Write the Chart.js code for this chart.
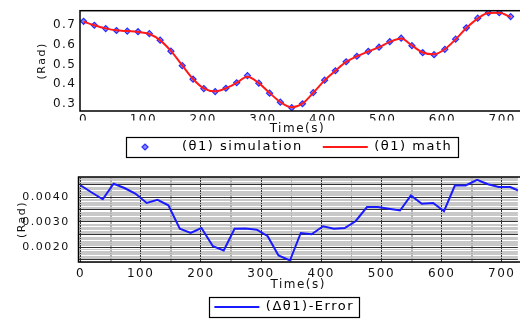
<!DOCTYPE html>
<html>
<head>
<meta charset="utf-8">
<script src="https://cdn.jsdelivr.net/npm/chart.js@4.4.1/dist/chart.umd.min.js"></script>
<style>
body{margin:0;background:#fff;width:520px;height:320px;overflow:hidden}
.box{position:absolute;left:0;width:520px;height:160px}
</style>
</head>
<body>
<div class="box" style="top:0"><canvas id="topChart" width="520" height="160"></canvas></div>
<div class="box" style="top:160px"><canvas id="errChart" width="520" height="160"></canvas></div>
<script>
// time axis (s), one sample roughly every 18.3 s
var simTime = [0, 18, 37, 55, 73, 91, 110, 128, 146, 165, 183, 201, 220, 238, 256, 274, 293, 311, 329, 348,
               366, 384, 403, 421, 439, 457, 476, 494, 512, 531, 549, 567, 586, 604, 622, 640, 659, 677, 695, 714];
var simTheta = [0.720, 0.700, 0.683, 0.673, 0.670, 0.667, 0.657, 0.624, 0.568, 0.494,
                0.425, 0.377, 0.362, 0.379, 0.407, 0.443, 0.405, 0.354, 0.308, 0.280,
                0.300, 0.357, 0.420, 0.468, 0.514, 0.542, 0.567, 0.588, 0.616, 0.634,
                0.596, 0.560, 0.550, 0.577, 0.629, 0.687, 0.736, 0.764, 0.764, 0.744];
var mathTheta = [0.718, 0.700, 0.684, 0.674, 0.670, 0.666, 0.655, 0.623, 0.569, 0.495,
                 0.426, 0.378, 0.363, 0.379, 0.407, 0.438, 0.405, 0.355, 0.309, 0.282,
                 0.301, 0.356, 0.419, 0.468, 0.513, 0.542, 0.566, 0.588, 0.615, 0.632,
                 0.597, 0.561, 0.552, 0.578, 0.628, 0.686, 0.734, 0.762, 0.763, 0.742];

var errTime = [0, 18, 37, 55, 73, 91, 110, 128, 146, 165, 183, 201, 220, 238, 256, 274, 293, 311, 329, 348,
               366, 384, 403, 421, 439, 457, 476, 494, 512, 531, 549, 567, 586, 604, 622, 640, 659, 677, 695, 714, 732];
var errTheta = [0.00451, 0.00423, 0.00395, 0.00457, 0.00440, 0.00418, 0.00380, 0.00393, 0.00371, 0.00277,
                0.00260, 0.00280, 0.00207, 0.00190, 0.00277, 0.00278, 0.00273, 0.00247, 0.00170, 0.00150,
                0.00260, 0.00255, 0.00287, 0.00277, 0.00280, 0.00307, 0.00364, 0.00364, 0.00357, 0.00350,
                0.00410, 0.00377, 0.00380, 0.00347, 0.00450, 0.00450, 0.00473, 0.00455, 0.00444, 0.00444, 0.00425];

var timeTicks = [0, 100, 200, 300, 400, 500, 600, 700];
var thetaTicks = ['0.3', '0.4', '0.5', '0.6', '0.7'];
var errTicks = ['0.0020', '0.0030', '0.0040'];

Chart.defaults.font.family = "'DejaVu Sans', sans-serif";
Chart.defaults.color = '#111';

function points(xs, ys){
    var out = [];
    for(let i=0; i<ys.length; i++){
        out.push({x: xs[i], y: ys[i]});
    }
    return out;
}

// the source plot is drawn with wide letter spacing
var spacing = {
    id: 'spacing',
    beforeUpdate: function(chart){ chart.ctx.letterSpacing = '1.5px'; },
    beforeDraw: function(chart){ chart.ctx.letterSpacing = '1.5px'; }
};

// light minor grid under the dark major lines
var minorGrid = {
    id: 'minorGrid',
    beforeDraw: function(chart, args, opts){
        if(!opts.on) return;
        var a = chart.chartArea, ctx = chart.ctx, xs = chart.scales.x, ys = chart.scales.y;
        ctx.save();
        ctx.lineWidth = 1;
        ctx.strokeStyle = opts.yColor;
        for(let k = Math.ceil(ys.min / opts.yStep); k * opts.yStep <= ys.max; k++){
            if(k % 5 === 0) continue;
            var py = Math.round(ys.getPixelForValue(k * opts.yStep)) + 0.5;
            ctx.beginPath(); ctx.moveTo(a.left, py); ctx.lineTo(a.right, py); ctx.stroke();
        }
        ctx.strokeStyle = opts.xColor;
        for(let k = Math.ceil(xs.min / opts.xStep); k * opts.xStep <= xs.max; k++){
            if(k % 2 === 0) continue;
            var px = Math.round(xs.getPixelForValue(k * opts.xStep)) + 0.5;
            ctx.beginPath(); ctx.moveTo(px, a.top); ctx.lineTo(px, a.bottom); ctx.stroke();
        }
        ctx.restore();
    }
};

// frame round the plot and round the legend
var frame = {
    id: 'frame',
    afterLayout: function(chart, args, opts){
        chart.legend.left += opts.shift;
        chart.legend.right += opts.shift;
    },
    afterDraw: function(chart, args, opts){
        var a = chart.chartArea, ctx = chart.ctx;
        ctx.save();
        ctx.strokeStyle = '#000';
        ctx.lineWidth = 1.5;
        ctx.strokeRect(a.left, a.top, a.right - a.left + 10, a.bottom - a.top);
        var hb = chart.legend.legendHitBoxes;
        var first = hb[0], last = hb[hb.length-1];
        var left = first.left - opts.padLeft;
        var right = last.left + last.width + opts.padRight;
        ctx.lineWidth = 1.2;
        ctx.strokeRect(Math.round(left)+0.5, Math.round(first.top - opts.padTop)+0.5, Math.round(right-left), Math.round(first.height + opts.padTop + opts.padBottom));
        ctx.restore();
    }
};

function diamondIcon(){
    var c = document.createElement('canvas');
    c.width = 30; c.height = 10;
    var g = c.getContext('2d');
    g.fillStyle = '#8c8cff';
    g.strokeStyle = '#2a2aff';
    g.lineWidth = 1.2;
    Chart.helpers.drawPoint(g, {pointStyle: 'rectRot', radius: 3, borderWidth: 1.2, rotation: 0}, 7, 5);
    return c;
}

new Chart('topChart', {
    type: 'line',
    data: {
        datasets: [{
            label: '(θ1) simulation',
            data: points(simTime, simTheta),
            showLine: false,
            pointStyle: 'rectRot',
            pointRadius: 3,
            pointBorderWidth: 1.2,
            backgroundColor: '#8c8cff',
            borderColor: '#2a2aff',
            order: 1
        }, {
            label: '(θ1) math',
            data: points(simTime, mathTheta),
            borderColor: '#ff1a1a',
            backgroundColor: '#ff1a1a',
            borderWidth: 2,
            pointRadius: 0,
            pointStyle: 'line',
            cubicInterpolationMode: 'monotone',
            order: 0
        }]
    },
    options: {
        responsive: false,
        animation: false,
        layout: {padding: {top: 7, left: 0, right: 0, bottom: 0}},
        scales: {
            x: {
                type: 'linear', min: -6, max: 721,
                border: {display: false},
                grid: {display: false, drawTicks: false},
                ticks: {
                    stepSize: 100, includeBounds: false, autoSkip: false, maxRotation: 0,
                    padding: 2, color: '#111', font: {size: 12},
                    callback: function(v){ return timeTicks.includes(v) ? String(v) : ''; }
                },
                title: {display: true, text: 'Time(s)', color: '#111', font: {size: 12}, padding: {top: 0, bottom: -15.7}},
                afterFit: function(s){ s.height = 9.5; }
            },
            y: {
                min: 0.263, max: 0.774,
                border: {display: false},
                grid: {display: false, drawTicks: false},
                ticks: {
                    stepSize: 0.1, includeBounds: false, padding: 3.5, color: '#111', font: {size: 12},
                    callback: function(v){ var s = v.toFixed(1); return thetaTicks.includes(s) ? s : ''; }
                },
                title: {display: true, text: '(Rad)', color: '#111', font: {size: 11}, padding: {top: 35.9, bottom: 0}},
                afterFit: function(s){ s.width = 80; }
            }
        },
        plugins: {
            legend: {
                position: 'bottom', fullSize: false, maxHeight: 39.5,
                labels: {
                    usePointStyle: true, pointStyleWidth: 45, boxHeight: 5, padding: 20,
                    color: '#000', font: {size: 13},
                    generateLabels: function(chart){
                        var items = Chart.defaults.plugins.legend.labels.generateLabels(chart);
                        items.sort(function(a, b){ return a.datasetIndex - b.datasetIndex; });
                        items[0].pointStyle = diamondIcon();
                        return items;
                    }
                }
            },
            tooltip: {enabled: false},
            minorGrid: {on: false},
            frame: {shift: -6, padLeft: 5, padRight: 5, padTop: 3.5, padBottom: 3.5}
        }
    },
    plugins: [spacing, minorGrid, frame]
});

new Chart('errChart', {
    type: 'line',
    data: {
        datasets: [{
            label: '(Δθ1)-Error',
            data: points(errTime, errTheta),
            borderColor: '#1a1aff',
            backgroundColor: '#1a1aff',
            borderWidth: 2,
            pointRadius: 0,
            pointStyle: 'line',
            tension: 0
        }]
    },
    options: {
        responsive: false,
        animation: false,
        layout: {padding: {top: 17, left: 0, right: 0, bottom: 0}},
        scales: {
            x: {
                type: 'linear', min: -3.3, max: 726.7,
                border: {display: false},
                grid: {
                    drawTicks: false, lineWidth: 1,
                    color: function(c){ return c.tick.value % 100 === 0 ? '#333' : '#b0b0b0'; }
                },
                ticks: {
                    stepSize: 50, maxTicksLimit: 100, includeBounds: false, autoSkip: false, maxRotation: 0,
                    padding: 4.5, color: '#111', font: {size: 12},
                    callback: function(v){ return timeTicks.includes(v) ? String(v) : ''; }
                },
                title: {display: true, text: 'Time(s)', color: '#111', font: {size: 12}, padding: {top: 0, bottom: -11.7}},
                afterFit: function(s){ s.height = 18.5; }
            },
            y: {
                min: 0.00144, max: 0.00484,
                border: {display: false},
                grid: {
                    drawTicks: false, lineWidth: 1,
                    color: function(c){ return Math.round(c.tick.value * 10000) % 5 === 0 ? '#333' : '#c8c8c8'; }
                },
                ticks: {
                    stepSize: 0.0001, maxTicksLimit: 100, includeBounds: false, autoSkip: false, padding: 8.7, color: '#111', font: {size: 11},
                    callback: function(v){ var s = v.toFixed(4); return errTicks.includes(s) ? s : ''; }
                },
                title: {display: true, text: '(Rad)', color: '#111', font: {size: 11}, padding: {top: 15.1, bottom: 0}},
                afterFit: function(s){ s.width = 78.5; }
            }
        },
        plugins: {
            legend: {
                position: 'bottom', fullSize: false, maxHeight: 39.5,
                labels: {
                    usePointStyle: true, pointStyleWidth: 45, boxHeight: 5, padding: 20,
                    color: '#000', font: {size: 13}
                }
            },
            tooltip: {enabled: false},
            minorGrid: {on: true, yStep: 0.0001, xStep: 50, yColor: '#c8c8c8', xColor: '#b0b0b0'},
            frame: {shift: -14, padLeft: 5, padRight: 5, padTop: 3.5, padBottom: 3.5}
        }
    },
    plugins: [spacing, minorGrid, frame]
});
</script>
</body>
</html>
